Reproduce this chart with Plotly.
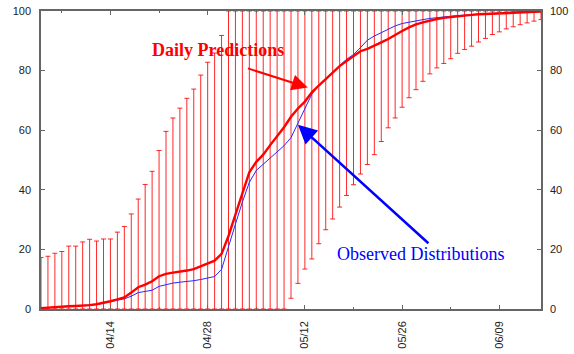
import pandas as pd
import plotly.graph_objects as go

# ---------------- data ----------------
start_date = "2003-04-04"
n_days = 73
dates = pd.date_range(start_date, periods=n_days, freq="D")

# lower end of each daily prediction interval (%)
pred_low = [0, 0, 0, 0, 0, 0, 0, 0, 0, 0,
            0, 0, 0, 0, 0, 0, 0, 0, 0, 0,
            0, 0, 0, 0, 0, 0, 0, 0, 0, 0,
            0, 0, 0, 0, 0, 0,
            3.6, 8.6, 13.4, 16.8, 21.9, 26.6, 30.2, 34.2, 38.1, 41.7,
            45.3, 48.5, 51.8, 56.2, 60.8, 64.1, 67.7, 70.9, 73.6, 76.4,
            78.9, 80.9, 82.4, 84.0, 85.8, 87.1, 88.2, 89.6, 90.8, 92.1,
            93.0, 94.0, 94.7, 95.4, 96.0, 96.6, 97.1]

# upper end of each daily prediction interval (%)
pred_high = [17.3, 17.7, 18.7, 19.3, 21.1, 21.1, 22.5, 23.4, 22.8, 23.5,
             23.5, 25.8, 27.7, 31.9, 36.9, 41.8, 46.2, 53.2, 59.6, 64.1,
             67.4, 70.7, 73.8, 78.5, 82.8, 85.9, 91.8,
             100, 100, 100, 100, 100, 100, 100, 100, 100, 100,
             100, 100, 100, 100, 100, 100, 100, 100, 100, 100,
             100, 100, 100, 100, 100, 100, 100, 100, 100, 100,
             100, 100, 100, 100, 100, 100, 100, 100, 100, 100,
             100, 100, 100, 100, 100, 100]

# daily predictions (thick red line)
pred_mid = [0.3, 0.5, 0.7, 0.8, 0.9, 1.0, 1.1, 1.3, 1.6, 2.0,
            2.6, 3.2, 3.9, 5.5, 7.3, 8.2, 9.3, 11.0, 11.8, 12.2,
            12.5, 12.9, 13.4, 14.3, 15.2, 16.2, 18.5, 24.5, 31.7, 38.9,
            45.9, 49.4, 51.8, 55.0, 58.0, 61.0, 64.5, 67.3, 69.6, 72.7,
            75.0, 77.2, 79.6, 81.5, 83.2, 84.9, 86.5, 87.3, 88.5, 89.5,
            90.6, 92.0, 93.3, 94.5, 95.5, 96.2, 96.8, 97.3, 97.7, 98.0,
            98.3, 98.5, 98.7, 98.9, 99.0, 99.1, 99.2, 99.3, 99.4, 99.5,
            99.6, 99.7, 99.8]

# observed distributions (thin blue line)
observed = [0.3, 0.5, 0.7, 0.8, 0.9, 1.0, 1.1, 1.3, 1.6, 2.0,
            2.5, 3.0, 3.4, 4.3, 5.5, 5.9, 6.3, 7.6, 8.2, 8.7,
            9.0, 9.2, 9.5, 9.9, 10.3, 10.9, 13.3, 20.5, 28.5, 35.9,
            42.5, 46.5, 48.6, 50.4, 52.5, 54.8, 57.5, 62.5, 67.5, 72.1,
            74.9, 77.2, 79.6, 81.7, 83.8, 85.4, 87.7, 90.2, 91.6, 92.8,
            94.0, 95.0, 95.8, 96.3, 96.8, 97.1, 97.5, 97.8, 98.1, 98.3,
            98.5, 98.6, 98.8, 98.9, 99.0, 99.2, 99.3, 99.5, 99.7, 99.8,
            99.8, 99.9, 100.0]

tick_start = "2003-04-14"
DAY_MS = 86400000

# ---------------- figure ----------------
err_up = [h - l for h, l in zip(pred_high, pred_low)]
err_dn = [0 for _ in pred_low]

fig = go.Figure()

fig.add_trace(go.Scatter(
    x=dates, y=pred_low, mode="markers",
    marker=dict(size=1, opacity=0),
    error_y=dict(type="data", symmetric=False, array=err_up, arrayminus=err_dn,
                 color="rgba(255,0,0,0.85)", thickness=1, width=2.5),
    showlegend=False, hoverinfo="skip"))

fig.add_trace(go.Scatter(
    x=dates, y=observed, mode="lines",
    line=dict(color="rgb(40,40,255)", width=1),
    showlegend=False))

fig.add_trace(go.Scatter(
    x=dates, y=pred_mid, mode="lines",
    line=dict(color="rgb(255,0,0)", width=2.4),
    showlegend=False))

# invisible trace to activate the right-hand axis
fig.add_trace(go.Scatter(
    x=dates, y=pred_mid, yaxis="y2", mode="lines",
    line=dict(width=0, color="rgba(0,0,0,0)"),
    showlegend=False, hoverinfo="skip"))

axis_col = "#666666"
tick_font = dict(family="Liberation Sans, Arial, sans-serif", size=11, color="#222222")

fig.update_layout(
    width=574, height=354,
    margin=dict(l=41, r=33, t=11, b=45),
    paper_bgcolor="white", plot_bgcolor="white",
    showlegend=False,
    xaxis=dict(
        type="date", range=[dates[0], dates[-1]], automargin=False,
        tick0=tick_start, dtick=14 * DAY_MS, tickformat="%m/%d",
        tickangle=-90, ticks="inside", ticklen=4, tickwidth=1, tickcolor=axis_col,
        showline=True, linecolor=axis_col, linewidth=1.5, mirror="ticks",
        showgrid=False, zeroline=False, tickfont=tick_font,
        ticklabelstandoff=6,
        minor=dict(tick0=tick_start, dtick=7 * DAY_MS, ticks="inside",
                   ticklen=2.5, tickwidth=1, tickcolor=axis_col, showgrid=False),
    ),
    yaxis=dict(
        range=[0, 100], dtick=20, ticks="inside", ticklen=4, tickwidth=1,
        tickcolor=axis_col, showline=True, linecolor=axis_col, linewidth=1.5,
        mirror="ticks", showgrid=False, zeroline=False, tickfont=tick_font,
        ticklabelstandoff=6, automargin=False,
    ),
    yaxis2=dict(
        range=[0, 100], dtick=20, overlaying="y", side="right", ticks="",
        showline=False, showgrid=False, zeroline=False, tickfont=tick_font,
        ticklabelstandoff=8, automargin=False,
    ),
    annotations=[
        dict(x="2003-04-29 10:00", y=87.0, xref="x", yref="y",
             text="<b>Daily Predictions</b>", showarrow=False,
             font=dict(family="Liberation Serif, Times New Roman, serif", size=18, color="red")),
        dict(x="2003-05-12 10:00", y=74.3, xref="x", yref="y",
             ax="2003-05-03 14:00", ay=80.9, axref="x", ayref="y",
             text="", showarrow=True, arrowhead=2, arrowsize=1.6, arrowwidth=2,
             arrowcolor="red"),
        dict(x="2003-05-28 17:00", y=18.6, xref="x", yref="y",
             text="Observed Distributions", showarrow=False,
             font=dict(family="Liberation Serif, Times New Roman, serif", size=18, color="blue")),
        dict(x="2003-05-11 00:00", y=61.8, xref="x", yref="y",
             ax="2003-05-30 00:00", ay=21.6, axref="x", ayref="y",
             text="", showarrow=True, arrowhead=2, arrowsize=1.5, arrowwidth=2.5,
             arrowcolor="blue"),
    ],
)

fig.write_html("out.html")
